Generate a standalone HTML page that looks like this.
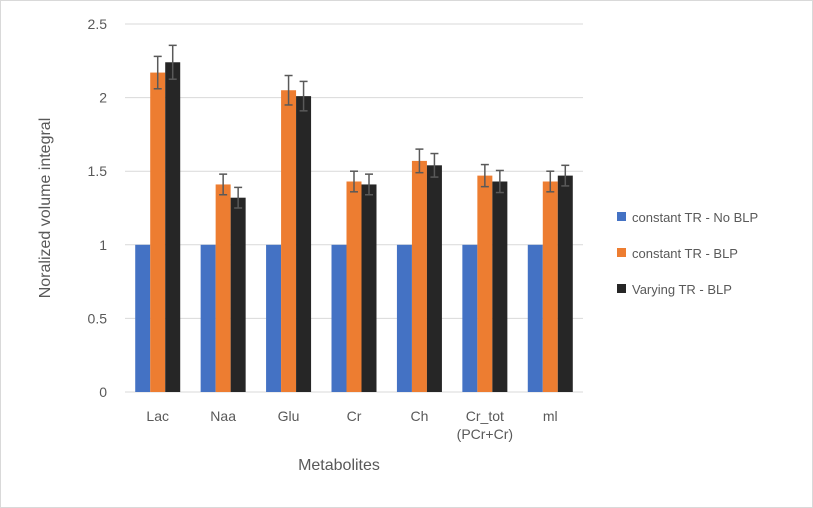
<!DOCTYPE html>
<html><head><meta charset="utf-8"><style>
body{margin:0;background:#fff;}
svg{display:block;font-family:"Liberation Sans",sans-serif;}
</style></head><body>
<svg id="chart" width="813" height="508">
<rect x="0.5" y="0.5" width="812" height="507" fill="#fff" stroke="#d9d9d9"/>
<g id="grid"></g><g id="bars"></g><g id="labels"></g>
<text x="339" y="470" font-size="16" fill="#595959" text-anchor="middle">Metabolites</text>
<text transform="translate(50,208) rotate(-90)" font-size="16" fill="#595959" text-anchor="middle">Noralized volume integral</text>
<g>
<rect x="617" y="212" width="9" height="9" fill="#4472c4"/>
<text x="632" y="222" font-size="13" fill="#595959">constant TR - No BLP</text>
<rect x="617" y="248" width="9" height="9" fill="#ed7d31"/>
<text x="632" y="258" font-size="13" fill="#595959">constant TR - BLP</text>
<rect x="617" y="284" width="9" height="9" fill="#262626"/>
<text x="632" y="294" font-size="13" fill="#595959">Varying TR - BLP</text>
</g>
</svg>
<script>
const categories=[["Lac"],["Naa"],["Glu"],["Cr"],["Ch"],["Cr_tot","(PCr+Cr)"],["ml"]];
const noBlp=[1,1,1,1,1,1,1];
const blp=[2.17,1.41,2.05,1.43,1.57,1.47,1.43];
const varying=[2.24,1.32,2.01,1.41,1.54,1.43,1.47];
const blpErr=[0.11,0.07,0.1,0.07,0.08,0.075,0.07];
const varyingErr=[0.115,0.07,0.1,0.07,0.08,0.075,0.07];
const yTicks=[0,0.5,1,1.5,2,2.5];
const tickLabels=["0","0.5","1","1.5","2","2.5"];
const NS="http://www.w3.org/2000/svg";
const x0=125,x1=583,yb=392,yt=24,ymax=2.5;
const cw=(x1-x0)/categories.length,bw=15;
const y=v=>yb-(v/ymax)*(yb-yt);
function mk(t,a,p){const e=document.createElementNS(NS,t);for(const k in a)e.setAttribute(k,a[k]);p.appendChild(e);return e;}
const g=document.getElementById('grid'),b=document.getElementById('bars'),l=document.getElementById('labels');
yTicks.forEach((v,i)=>{
 const ln=mk('line',{x1:x0,x2:x1,y1:y(v),y2:y(v),stroke:v===0?'#d9d9d9':'#d9d9d9','stroke-width':1},g);
 
 
 const t=mk('text',{x:107,y:y(v)+5,'font-size':14,fill:'#595959','text-anchor':'end'},l);
 t.textContent=tickLabels[i];
 
 
});
const series=[[noBlp,'#4472c4',null,'bar-no-blp'],[blp,'#ed7d31',blpErr,'bar-blp'],[varying,'#262626',varyingErr,'bar-varying']];
categories.forEach((c,i)=>{
 const cx=x0+cw*(i+0.5);
 series.forEach((s,j)=>{
  const bx=cx-1.5*bw+j*bw,v=s[0][i];
  const r=mk('rect',{x:bx,y:y(v),width:bw,height:yb-y(v),fill:s[1]},b);
  
  
  if(s[2]){const e=s[2][i],mx=bx+bw/2;
   const eg=mk('g',{stroke:'#595959','stroke-width':1.5},b);
   
   
   mk('line',{x1:mx,x2:mx,y1:y(v+e),y2:y(v-e)},eg);
   mk('line',{x1:mx-4,x2:mx+4,y1:y(v+e),y2:y(v+e)},eg);
   mk('line',{x1:mx-4,x2:mx+4,y1:y(v-e),y2:y(v-e)},eg);}
 });
 c.forEach((txt,k)=>{
  const t=mk('text',{x:cx,y:421+k*18,'font-size':14,fill:'#595959','text-anchor':'middle'},l);
  t.textContent=txt;
  
  
 });
});
</script>
</body></html>
